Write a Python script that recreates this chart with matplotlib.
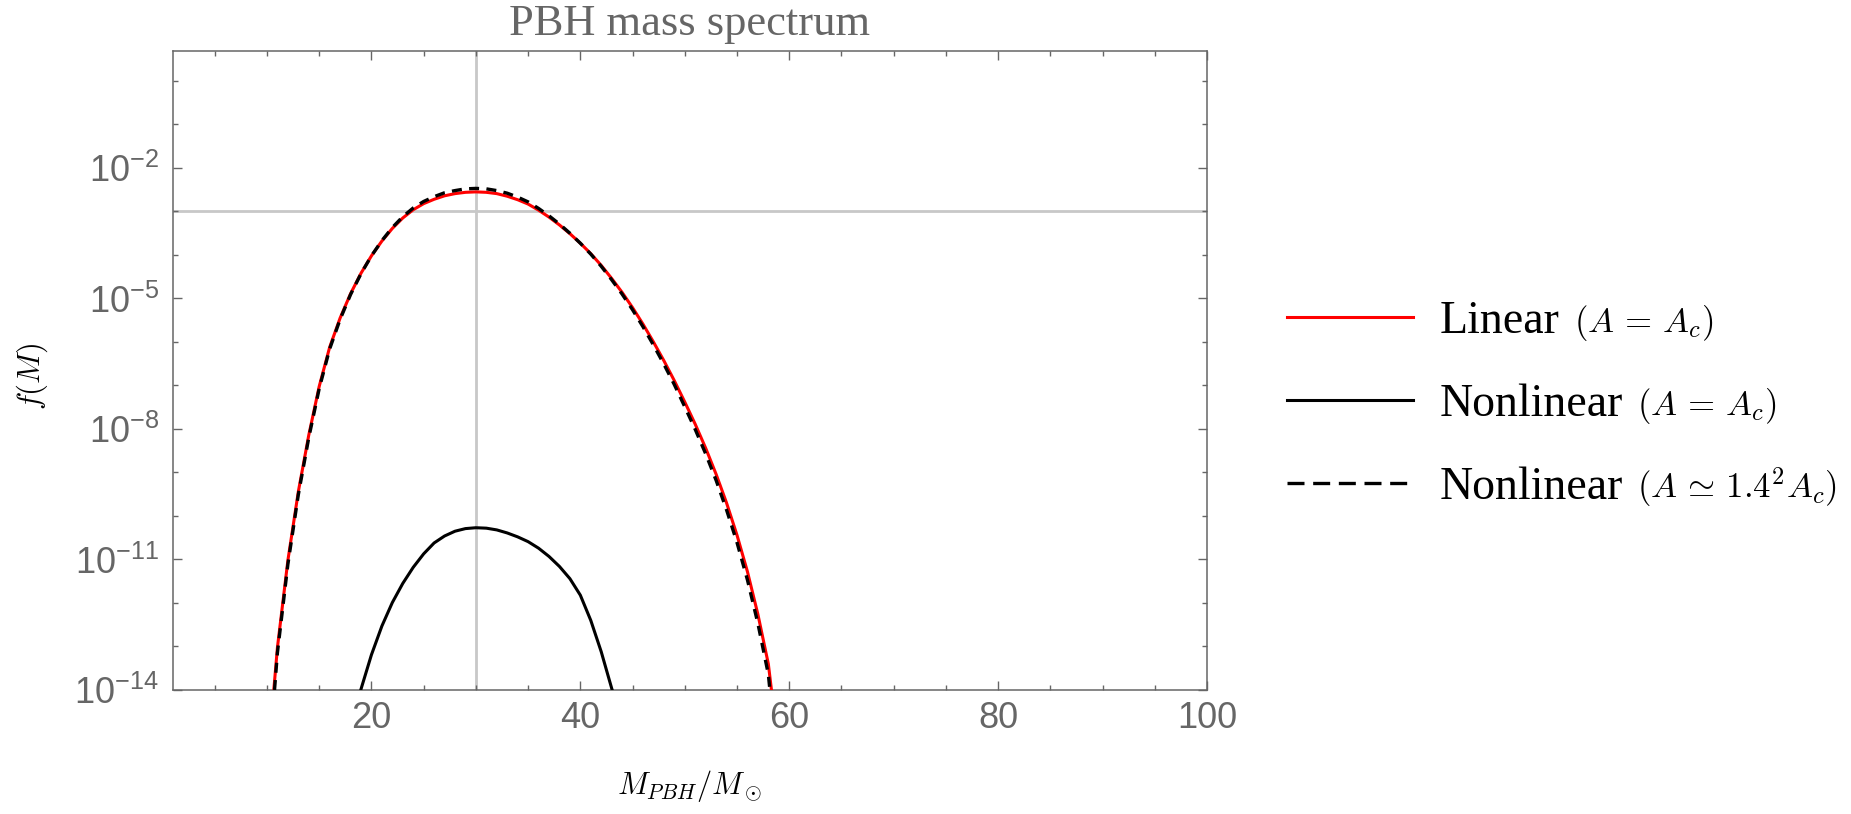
import matplotlib.pyplot as plt
import numpy as np
from matplotlib.lines import Line2D
from matplotlib.ticker import FixedLocator, NullFormatter

plt.rcParams['font.family'] = ['Liberation Sans', 'DejaVu Sans']
plt.rcParams['mathtext.fontset'] = 'cm'

# curves (M in solar masses, log10 of f(M))
M_linear = [10.65, 11, 12, 13, 14, 15, 16, 17, 18, 19, 20, 21, 22, 23, 24, 25, 26, 27, 28, 29,
            30, 31, 32, 33, 34, 35, 36, 37, 38, 39, 40, 41, 42, 43, 44, 45, 46, 47, 48, 49,
            50, 51, 52, 53, 54, 55, 56, 57, 58, 58.3]
logf_linear = [-14.0, -13.02, -11.02, -9.44, -8.14, -7.02, -6.12, -5.45, -4.89, -4.42,
               -4.02, -3.68, -3.39, -3.15, -2.96, -2.82, -2.72, -2.64, -2.59, -2.56,
               -2.55, -2.56, -2.59, -2.65, -2.73, -2.83, -2.97, -3.13, -3.31, -3.51,
               -3.73, -3.97, -4.24, -4.54, -4.86, -5.21, -5.59, -6.00, -6.43, -6.89,
               -7.38, -7.89, -8.44, -9.04, -9.70, -10.44, -11.28, -12.26, -13.40, -14.0]

M_nonlin = [18.98, 19, 20, 21, 22, 23, 24, 25, 26, 27, 28, 29, 30, 31, 32, 33, 34, 35,
            36, 37, 38, 39, 40, 41, 42, 43, 43.05]
logf_nonlin = [-14.0, -13.98, -13.19, -12.53, -11.99, -11.55, -11.18, -10.87, -10.62, -10.46,
               -10.35, -10.29, -10.27, -10.28, -10.32, -10.39, -10.48, -10.59, -10.74, -10.93,
               -11.16, -11.44, -11.82, -12.40, -13.12, -13.96, -14.0]

M_nonlin14 = [10.72, 11, 12, 13, 14, 15, 16, 17, 18, 19, 20, 21, 22, 23, 24, 25, 26, 27, 28, 29,
              30, 31, 32, 33, 34, 35, 36, 37, 38, 39, 40, 41, 42, 43, 44, 45, 46, 47, 48, 49,
              50, 51, 52, 53, 54, 55, 56, 57, 58, 58.15]
logf_nonlin14 = [-14.0, -13.14, -11.11, -9.51, -8.20, -7.07, -6.16, -5.48, -4.91, -4.43,
                 -4.02, -3.67, -3.37, -3.12, -2.92, -2.77, -2.66, -2.57, -2.52, -2.48,
                 -2.47, -2.48, -2.52, -2.58, -2.67, -2.78, -2.93, -3.10, -3.29, -3.50,
                 -3.73, -3.98, -4.26, -4.57, -4.90, -5.26, -5.65, -6.07, -6.51, -6.98,
                 -7.49, -8.01, -8.57, -9.18, -9.86, -10.61, -11.47, -12.47, -13.64, -14.0]

# reference lines
M_ref = 30
f_ref = 1e-3

x_major = [20, 40, 60, 80, 100]
x_minor = [5, 10, 15, 25, 30, 35, 45, 50, 55, 65, 70, 75, 85, 90, 95]
y_major_exp = [-14, -11, -8, -5, -2]
y_minor_exp = [-13, -12, -10, -9, -7, -6, -4, -3, -1, 0]

legend_names = ['Linear', 'Nonlinear', 'Nonlinear']
legend_math = [r'$(A\,=\,A_c)$', r'$(A\,=\,A_c)$', r'$(A\,\simeq\,1.4^2 A_c)$']

gray = '#666666'
grid_gray = '#c8c8c8'

fig = plt.figure(figsize=(18.51, 8.14), dpi=100)
ax = fig.add_axes([173/1851, 124/814, 1034/1851, 639.5/814])

ax.axvline(M_ref, color=grid_gray, lw=2, zorder=1)
ax.axhline(f_ref, color=grid_gray, lw=2, zorder=1)

ax.plot(M_linear, 10.0**np.array(logf_linear), color='red', lw=2.2, zorder=3)
ax.plot(M_nonlin, 10.0**np.array(logf_nonlin), color='black', lw=2.2, zorder=3)
ax.plot(M_nonlin14, 10.0**np.array(logf_nonlin14), color='black', lw=2.4,
        dashes=(3, 2.2), zorder=4)

ax.set_yscale('log')
ax.set_xlim(1, 100)
ax.set_ylim(1e-14, 10**0.7)

ax.xaxis.set_major_locator(FixedLocator(x_major))
ax.xaxis.set_minor_locator(FixedLocator(x_minor))
ax.yaxis.set_major_locator(FixedLocator([10.0**e for e in y_major_exp]))
ax.yaxis.set_minor_locator(FixedLocator([10.0**e for e in y_minor_exp]))
ax.yaxis.set_minor_formatter(NullFormatter())
ax.set_yticklabels([r'$\mathregular{10^{%d}}$' % e for e in y_major_exp])

ax.tick_params(which='both', direction='in', top=True, right=True,
               colors=gray, labelsize=26, width=1.0)
ax.tick_params(which='major', length=6.5)
ax.tick_params(which='minor', length=3.6)
ax.tick_params(axis='x', pad=8)
ax.tick_params(axis='y', pad=10)
for s in ax.spines.values():
    s.set_color(gray)
    s.set_linewidth(1.1)

ax.set_title('PBH mass spectrum', fontsize=32, family='Liberation Serif', color=gray, pad=11)
ax.set_xlabel(r'$M_{PBH}/M_\odot$', fontsize=22)
ax.xaxis.set_label_coords(0.5, -0.122)
ax.set_ylabel(r'$f(M)$', fontsize=22)
ax.yaxis.set_label_coords(-0.119, 0.49)

# legend outside on the right, math part added in smaller type
handles = [Line2D([], [], color='red', lw=2.2),
           Line2D([], [], color='black', lw=2.2),
           Line2D([], [], color='black', lw=2.4, dashes=(5.1, 2.6))]
leg = fig.legend(handles, legend_names, loc='center left',
                 bbox_to_anchor=(1287/1851, 1 - 405/814), frameon=False,
                 prop={'family': 'Liberation Serif', 'size': 33},
                 handlelength=2.75, handletextpad=0.59, labelspacing=0.88,
                 borderpad=0, borderaxespad=0)

fig.canvas.draw()
for t, m in zip(leg.get_texts(), legend_math):
    ax.annotate(m, xy=(1, 0), xycoords=t, xytext=(10, 0), textcoords='offset points',
                va='bottom', fontsize=25, annotation_clip=False)

fig.savefig('out.png', dpi=100)
